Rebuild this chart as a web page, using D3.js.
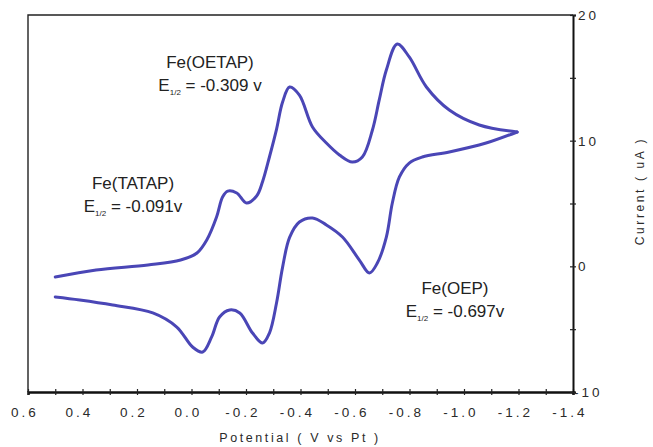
<!DOCTYPE html>
<html>
<head>
<meta charset="utf-8">
<script src="https://cdn.jsdelivr.net/npm/d3@7"></script>
<style>
  body { margin: 0; background: #fff; }
  svg text { font-family: "Liberation Sans", Arial, sans-serif; }
</style>
</head>
<body>
<main></main>
<script>
// cyclic voltammogram, values
// [potential (V vs Pt), current (uA)]
let forwardScan = [
  [0.50, -0.85], [0.35, -0.29], [0.16, 0.11], [0.04, 0.50], [-0.02, 1.06],
  [-0.056, 2.10], [-0.092, 3.93], [-0.114, 5.52], [-0.133, 5.99], [-0.166, 5.84],
  [-0.202, 5.04], [-0.239, 5.60], [-0.261, 6.75], [-0.286, 8.70], [-0.312, 10.90],
  [-0.334, 13.05], [-0.360, 14.27], [-0.396, 13.63], [-0.444, 11.09], [-0.495, 9.81],
  [-0.543, 8.86], [-0.590, 8.30], [-0.627, 8.70], [-0.664, 10.85], [-0.689, 13.24],
  [-0.715, 15.62], [-0.755, 17.69], [-0.799, 16.66], [-0.862, 14.27], [-0.946, 12.44],
  [-1.056, 11.25], [-1.195, 10.69]
];

let reverseScan = [
  [-1.195, 10.69], [-1.081, 9.81], [-0.946, 9.10], [-0.847, 8.70], [-0.799, 8.22],
  [-0.763, 7.11], [-0.737, 5.04], [-0.715, 2.33], [-0.682, 0.26], [-0.653, -0.53],
  [-0.616, 0.50], [-0.554, 2.33], [-0.495, 3.29], [-0.444, 3.85], [-0.396, 3.53],
  [-0.360, 2.30], [-0.334, -0.10], [-0.312, -2.92], [-0.286, -5.31], [-0.261, -6.10],
  [-0.224, -5.31], [-0.177, -3.71], [-0.140, -3.47], [-0.103, -4.03], [-0.074, -5.62],
  [-0.041, -6.82], [-0.004, -6.42], [0.054, -4.83], [0.142, -3.71], [0.289, -3.08],
  [0.410, -2.68], [0.50, -2.44]
];

let xTickValues = [0.6, 0.4, 0.2, 0.0, -0.2, -0.4, -0.6, -0.8, -1.0, -1.2, -1.4];
let yTickValues = [-10, 0, 10, 20];

let labels = [
  { name: 'Fe(OETAP)', e: '-0.309 v', x: 210, y: 62 },
  { name: 'Fe(TATAP)', e: '-0.091v', x: 133, y: 183 },
  { name: 'Fe(OEP)', e: '-0.697v', x: 455, y: 288 }
];

let margin = { top: 15, left: 28, bottom: 55, right: 80 };
let width = 653;
let height = 447;

let svg = d3.select('main')
  .append('svg')
  .attr('width', width)
  .attr('height', height);

let x = d3.scaleLinear()
  .domain([0.6, -1.4])
  .range([margin.left, width - margin.right]);

let y = d3.scaleLinear()
  .domain([-10, 20])
  .range([height - margin.bottom, margin.top]);

// thin frame on top and left
svg.append('path')
  .attr('d', `M${x(0.6)},${y(-10)}V${y(20)}H${x(-1.4)}`)
  .attr('fill', 'none')
  .attr('stroke', '#222')
  .attr('stroke-width', 1.4);

// bottom axis, ticks every 0.1, labels every 0.2
let xAxis = svg.append('g')
  .attr('transform', `translate(0,${y(-10)})`)
  .call(d3.axisBottom(x)
    .tickValues(d3.range(0, 21).map(i => 0.6 - i * 0.1))
    .tickSize(3)
    .tickFormat(''));
xAxis.select('.domain').attr('stroke', '#111').attr('stroke-width', 2.5);
xAxis.selectAll('.tick line').attr('stroke', '#222').attr('y1', -3).attr('stroke-width', 1.2);

svg.append('g')
  .selectAll('text')
  .data(xTickValues)
  .enter().append('text')
  .attr('x', d => x(d) - 3)
  .attr('y', 417)
  .attr('text-anchor', 'middle')
  .attr('font-size', 13.5)
  .attr('letter-spacing', 3)
  .attr('fill', '#2a2a2a')
  .text(d => d3.format('.1f')(d).replace('−', '-'));

// right axis
let yAxis = svg.append('g')
  .attr('transform', `translate(${x(-1.4)},0)`)
  .call(d3.axisRight(y)
    .tickValues(d3.range(-10, 21, 5))
    .tickSize(3)
    .tickFormat(''));
yAxis.select('.domain').attr('stroke', '#111').attr('stroke-width', 2);
yAxis.selectAll('.tick line').attr('stroke', '#222').attr('x1', -3).attr('stroke-width', 1.2);

svg.append('g')
  .selectAll('text')
  .data(yTickValues)
  .enter().append('text')
  .attr('x', d => x(-1.4) + (d < 0 ? 1 : 5))
  .attr('y', d => y(d) + 5)
  .attr('font-size', 13.5)
  .attr('letter-spacing', 3)
  .attr('fill', '#2a2a2a')
  .text(d => d3.format('d')(d).replace('−', '-'));

// axis titles
svg.append('text')
  .attr('x', 300)
  .attr('y', 442)
  .attr('text-anchor', 'middle')
  .attr('font-size', 12.5)
  .attr('letter-spacing', 2.6)
  .attr('fill', '#2a2a2a')
  .text('Potential ( V vs Pt )');

svg.append('text')
  .attr('transform', 'translate(644,191) rotate(-90)')
  .attr('text-anchor', 'middle')
  .attr('font-size', 12)
  .attr('letter-spacing', 2.6)
  .attr('fill', '#2a2a2a')
  .text('Current ( uA )');

// voltammogram
let line = d3.line()
  .x(d => x(d[0]))
  .y(d => y(d[1]))
  .curve(d3.curveCatmullRom.alpha(0.5));

svg.selectAll('.scan')
  .data([forwardScan, reverseScan])
  .enter().append('path')
  .attr('class', 'scan')
  .attr('d', line)
  .attr('fill', 'none')
  .attr('stroke', '#4a46b6')
  .attr('stroke-width', 3)
  .attr('stroke-linecap', 'round')
  .attr('stroke-linejoin', 'round');

// peak annotations
let notes = svg.append('g').selectAll('g')
  .data(labels)
  .enter().append('g');

notes.append('text')
  .attr('x', d => d.x)
  .attr('y', d => d.y + 6)
  .attr('text-anchor', 'middle')
  .attr('font-size', 17)
  .attr('fill', '#222')
  .text(d => d.name);

let eLine = notes.append('text')
  .attr('x', d => d.x)
  .attr('y', d => d.y + 29)
  .attr('text-anchor', 'middle')
  .attr('font-size', 17)
  .attr('fill', '#222');
eLine.append('tspan').text('E');
eLine.append('tspan')
  .attr('font-size', 8)
  .attr('dy', 4)
  .text('1/2');
eLine.append('tspan')
  .attr('dy', -4)
  .text(d => ' = ' + d.e);
</script>
</body>
</html>
